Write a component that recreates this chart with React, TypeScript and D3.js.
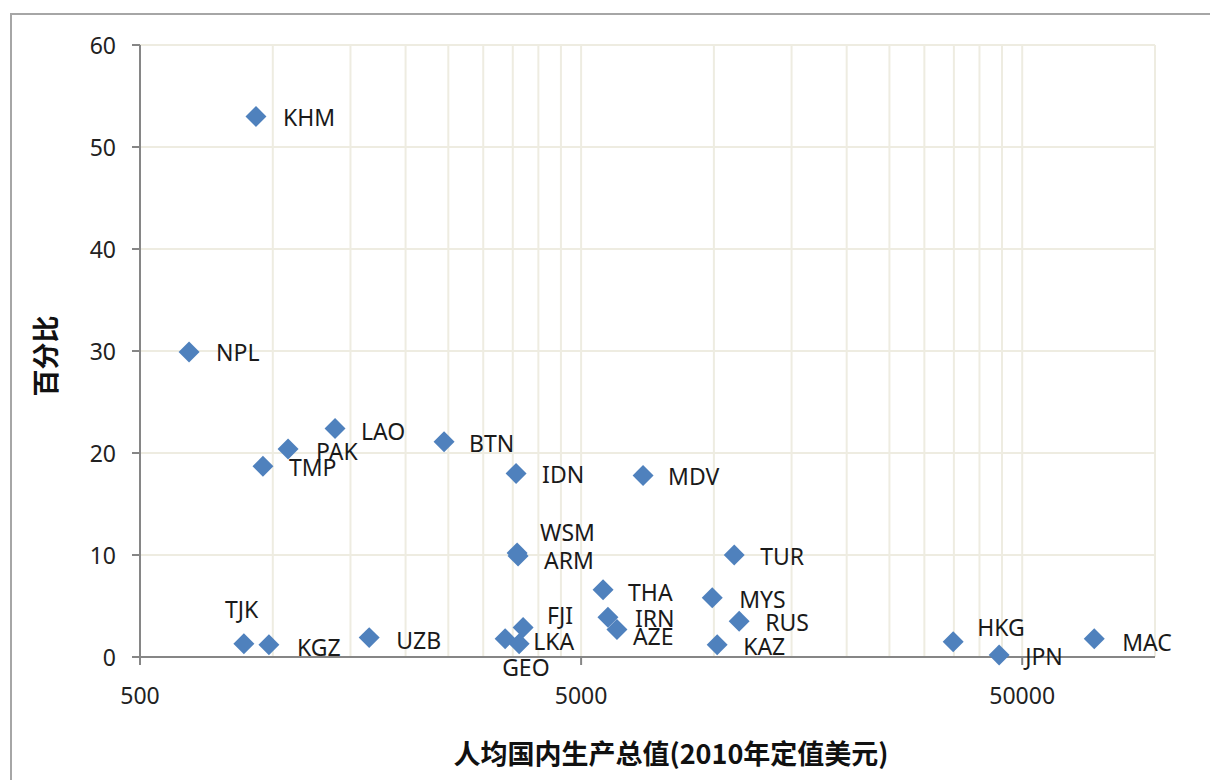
import React from "react";
import * as d3 from "d3";

// ---- Data ----
const countries = [
  "KHM", "NPL", "LAO", "PAK", "TMP", "BTN", "IDN", "MDV", "WSM", "ARM",
  "TUR", "THA", "MYS", "IRN", "RUS", "AZE", "FJI", "KAZ", "LKA", "GEO",
  "TJK", "KGZ", "UZB", "HKG", "JPN", "MAC",
];
const gdpPerCapita = [
  916, 646, 1384, 1083, 950, 2445, 3561, 6910, 3580, 3598,
  11120, 5607, 9914, 5752, 11410, 6028, 3694, 10172, 3363, 3618,
  860, 980, 1654, 34870, 44330, 72830,
];
const percentValues = [
  53.0, 29.9, 22.4, 20.4, 18.7, 21.1, 18.0, 17.8, 10.2, 9.9,
  10.0, 6.6, 5.8, 3.9, 3.5, 2.7, 2.9, 1.2, 1.8, 1.3,
  1.3, 1.2, 1.9, 1.5, 0.2, 1.8,
];
const xTickValues = [500, 5000, 50000];
const yTickValues = [0, 10, 20, 30, 40, 50, 60];
const xTitle = "人均国内生产总值(2010年定值美元)";
const yTitle = "百分比";

// label nudges (layout only): [dx, dy] from marker centre to label's left/middle
const labelNudge: Record<string, [number, number]> = {
  KHM: [27, 1], NPL: [27, 0], LAO: [26, 2], PAK: [28, 2], TMP: [26, 1],
  BTN: [25, 1], IDN: [26, 1], MDV: [25, 1], WSM: [23, -21], ARM: [26, 4],
  TUR: [26, 1], THA: [25, 2], MYS: [27, 1], IRN: [27, 1], RUS: [26, 1],
  AZE: [16, 7], FJI: [24, -12], KAZ: [26, 1], LKA: [28, 2], GEO: [-17, 23],
  TJK: [-19, -35], KGZ: [28, 2], UZB: [27, 2], HKG: [24, -15], JPN: [26, 1],
  MAC: [28, 3],
};

const W = 1210;
const H = 780;
const plot = { left: 140, top: 45, right: 1155, bottom: 657 };

// minor gridlines: 500 * k within each decade (Excel style log axis with min 500)
function minorValues(): number[] {
  const out: number[] = [];
  for (let base = 500; base < 100000; base *= 10) {
    for (let k = 2; k <= 9; k++) {
      const v = base * k;
      if (v <= 100000) out.push(v);
    }
  }
  return out;
}

export default function App() {
  const x = d3.scaleLog().domain([500, 100000]).range([plot.left, plot.right]);
  const y = d3.scaleLinear().domain([0, 60]).range([plot.bottom, plot.top]);
  const diamond = d3.symbol().type(d3.symbolSquare).size(220)();

  const gridColor = "#EEECE1";
  const axisColor = "#868686";
  const font = "'Noto Sans', 'Liberation Sans', sans-serif";
  const cjk = "'Noto Sans CJK SC', sans-serif";

  const gridX = [...xTickValues, ...minorValues()];

  return (
    <svg
      width={W}
      height={H}
      style={{ position: "absolute", left: 0, top: 0, background: "#fff" }}
    >
      <rect x={0} y={0} width={W} height={H} fill="#fff" />
      {/* chart frame */}
      <rect x={11} y={14} width={W + 20} height={H + 20} fill="none" stroke="#A6A6A6" strokeWidth={2} />

      {/* horizontal gridlines */}
      {yTickValues.filter((v) => v > 0).map((v) => (
        <line key={"gy" + v} x1={plot.left} x2={plot.right} y1={y(v)} y2={y(v)} stroke={gridColor} strokeWidth={2} />
      ))}
      {/* vertical gridlines */}
      {gridX.map((v) => (
        <line key={"gx" + v} x1={x(v)} x2={x(v)} y1={plot.top} y2={plot.bottom} stroke={gridColor} strokeWidth={2} />
      ))}

      {/* axes */}
      <line x1={plot.left} x2={plot.left} y1={plot.top} y2={plot.bottom} stroke={axisColor} strokeWidth={2} />
      <line x1={plot.left} x2={plot.right} y1={plot.bottom} y2={plot.bottom} stroke={axisColor} strokeWidth={2} />
      {yTickValues.map((v) => (
        <g key={"ty" + v}>
          <line x1={plot.left - 8} x2={plot.left} y1={y(v)} y2={y(v)} stroke={axisColor} strokeWidth={2} />
          <text x={116} y={y(v)} textAnchor="end" dominantBaseline="central" fontFamily={font} fontSize={23} fill="#222">
            {v}
          </text>
        </g>
      ))}
      {xTickValues.map((v) => (
        <g key={"tx" + v}>
          <line x1={x(v)} x2={x(v)} y1={plot.bottom} y2={plot.bottom + 8} stroke={axisColor} strokeWidth={2} />
          <text x={x(v)} y={695} textAnchor="middle" dominantBaseline="central" fontFamily={font} fontSize={23} fill="#222">
            {v}
          </text>
        </g>
      ))}

      {/* points */}
      {countries.map((c, i) => (
        <path
          key={"p" + c}
          d={diamond}
          transform={`translate(${x(gdpPerCapita[i])},${y(percentValues[i])}) rotate(45)`}
          fill="#4F81BD"
        />
      ))}
      {/* labels */}
      {countries.map((c, i) => {
        const [dx, dy] = labelNudge[c] || [26, 1];
        return (
          <text
            key={"l" + c}
            x={x(gdpPerCapita[i]) + dx}
            y={y(percentValues[i]) + dy}
            dominantBaseline="central"
            fontFamily={font}
            fontSize={23}
            fill="#1a1a1a"
          >
            {c}
          </text>
        );
      })}

      {/* titles */}
      <text x={671} y={752} textAnchor="middle" dominantBaseline="central" fontFamily={cjk} fontWeight="bold" fontSize={27} fill="#111">
        {xTitle}
      </text>
      <text
        transform={`translate(44,356) rotate(-90)`}
        textAnchor="middle"
        dominantBaseline="central"
        fontFamily={cjk}
        fontWeight="bold"
        fontSize={27}
        fill="#111"
      >
        {yTitle}
      </text>
    </svg>
  );
}
